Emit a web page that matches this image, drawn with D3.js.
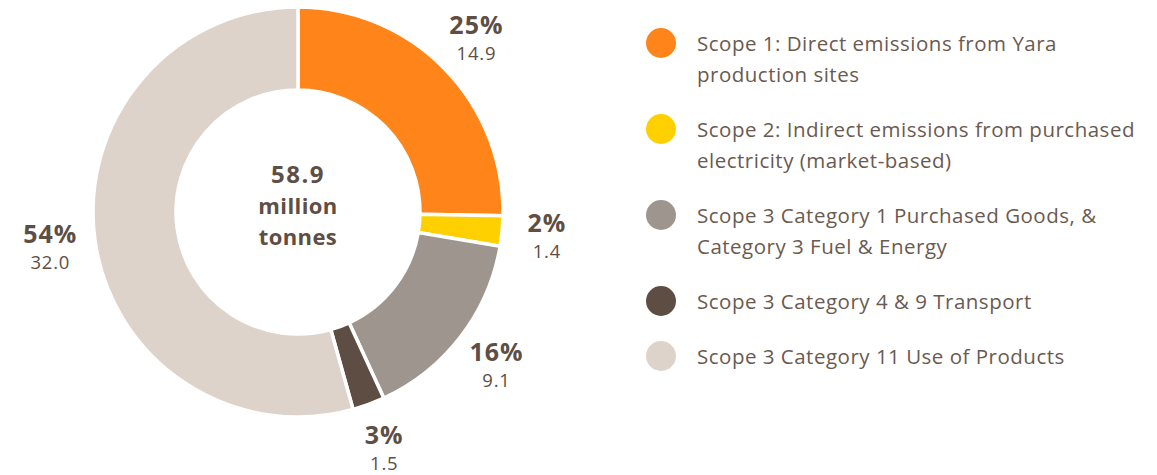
<!DOCTYPE html>
<html>
<head>
<meta charset="utf-8">
<script src="https://cdn.jsdelivr.net/npm/d3@7"></script>
<style>
  html, body { margin: 0; padding: 0; background: #ffffff; }
  svg { display: block; }
</style>
</head>
<body>
<svg id="chart" width="1157" height="475"></svg>
<script>
// Emission sources, million tonnes CO2e
const categories = [
  "Scope 1: Direct emissions from Yara production sites",
  "Scope 2: Indirect emissions from purchased electricity (market-based)",
  "Scope 3 Category 1 Purchased Goods, & Category 3 Fuel & Energy",
  "Scope 3 Category 4 & 9 Transport",
  "Scope 3 Category 11 Use of Products"
];
const legendLines = [
  ["Scope 1: Direct emissions from Yara", "production sites"],
  ["Scope 2: Indirect emissions from purchased", "electricity (market-based)"],
  ["Scope 3 Category 1 Purchased Goods, &", "Category 3 Fuel & Energy"],
  ["Scope 3 Category 4 & 9 Transport"],
  ["Scope 3 Category 11 Use of Products"]
];
const values = [14.9, 1.4, 9.1, 1.5, 32.0];
const shareLabels = ["25%", "2%", "16%", "3%", "54%"];
const valueLabels = ["14.9", "1.4", "9.1", "1.5", "32.0"];
const totalLines = ["58.9", "million", "tonnes"];
const colors = ["#FF851A", "#FFD000", "#9E958F", "#5E4D42", "#DDD3CB"];

const textColor = "#5E4E44";
const fontFamily = "'Open Sans', 'Noto Sans', sans-serif";

const svg = d3.select("#chart");
const cx = 298, cy = 212;
const outerR = 205, innerR = 122, labelR = 250;

const pie = d3.pie().sort(null).value(d => d);
const arcs = pie(values);
const arc = d3.arc().innerRadius(innerR).outerRadius(outerR);
const labelArc = d3.arc().innerRadius(labelR).outerRadius(labelR);

const g = svg.append("g").attr("transform", `translate(${cx},${cy})`);

g.selectAll("path.slice")
  .data(arcs)
  .join("path")
  .attr("class", "slice")
  .attr("d", arc)
  .attr("fill", (d, i) => colors[i])
  .attr("stroke", "#ffffff")
  .attr("stroke-width", 3.5)
  .attr("stroke-linejoin", "miter");

// Slice labels: share on top, absolute value below
const lbl = g.selectAll("g.lbl")
  .data(arcs)
  .join("g")
  .attr("class", "lbl")
  .attr("transform", d => {
    const [x, y] = labelArc.centroid(d);
    return `translate(${x},${y})`;
  });

lbl.append("text")
  .attr("text-anchor", "middle")
  .attr("y", -3)
  .attr("font-family", fontFamily)
  .attr("font-weight", 700)
  .attr("font-size", 25)
  .attr("letter-spacing", 1)
  .attr("fill", textColor)
  .text((d, i) => shareLabels[i]);

lbl.append("text")
  .attr("text-anchor", "middle")
  .attr("y", 23)
  .attr("font-family", fontFamily)
  .attr("font-weight", 400)
  .attr("font-size", 18.5)
  .attr("letter-spacing", 0.8)
  .attr("fill", textColor)
  .text((d, i) => valueLabels[i]);

// Total in the centre of the donut
g.append("g")
  .selectAll("text")
  .data(totalLines)
  .join("text")
  .attr("text-anchor", "middle")
  .attr("y", (d, i) => -29 + i * 31)
  .attr("font-family", fontFamily)
  .attr("font-weight", 700)
  .attr("font-size", (d, i) => i === 0 ? 24 : 22)
  .attr("letter-spacing", (d, i) => i === 0 ? 1.5 : 0.4)
  .attr("fill", textColor)
  .text(d => d);

// Legend
const legendX = 661, textX = 697, lineH = 31, itemGap = 24;
let baseline = 51;
const legend = svg.append("g");
legendLines.forEach((lines, i) => {
  const item = legend.append("g");
  item.append("circle")
    .attr("cx", legendX)
    .attr("cy", baseline - 8)
    .attr("r", 15)
    .attr("fill", colors[i]);
  item.selectAll("text")
    .data(lines)
    .join("text")
    .attr("x", textX)
    .attr("y", (d, j) => baseline + j * lineH)
    .attr("font-family", fontFamily)
    .attr("font-size", 20.5)
    .attr("letter-spacing", 0.5)
    .attr("fill", "#6A5A50")
    .text(d => d);
  baseline += lines.length * lineH + itemGap;
});
</script>
</body>
</html>
